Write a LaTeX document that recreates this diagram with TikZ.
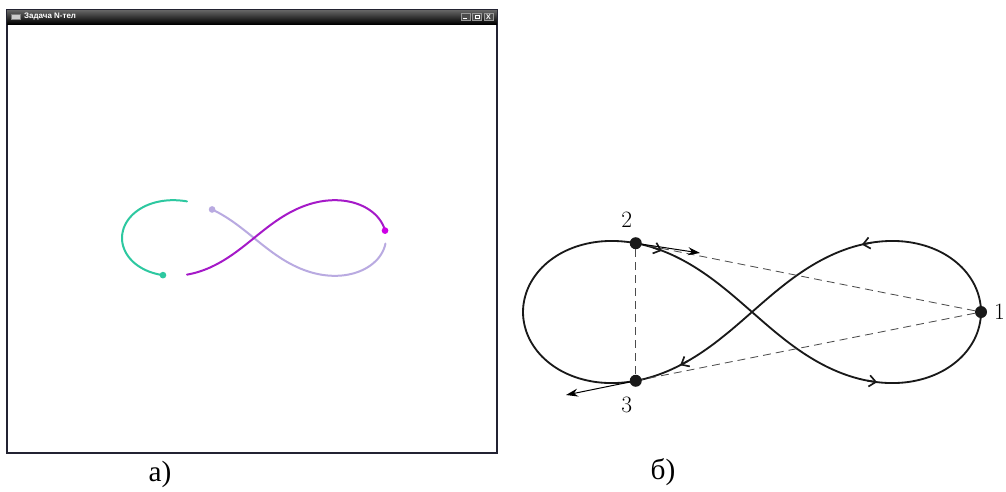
\documentclass[tikz,border=0pt]{standalone}
\usepackage{fontspec}
\newfontfamily\serifcyr{Liberation Serif}
\newfontfamily\winfont{Liberation Sans}
\usetikzlibrary{arrows.meta, positioning}

\definecolor{trailteal}{RGB}{45,200,160}
\definecolor{trailmag}{RGB}{165,25,200}
\definecolor{dotmag}{RGB}{205,0,230}
\definecolor{traillilac}{RGB}{185,170,225}
\definecolor{winedge}{RGB}{35,35,50}

\begin{document}
\begin{tikzpicture}[
    x=0.03cm, y=-0.03cm,
    declare function={lx(\t)=cos(\t)/(1+sin(\t)^2); ly(\t)=sin(\t)*cos(\t)/(1+sin(\t)^2);},
    orbit/.style={line width=0.55mm, black!90},
    trail/.style={line width=0.6mm, line cap=round},
    chev/.style={line width=0.5mm, black!90, -{Straight Barb[length=2mm, width=3.4mm]}},
    body/.style={circle, fill=black!90, inner sep=0pt, minimum size=3.6mm},
    bodydot/.style={circle, inner sep=0pt, minimum size=2mm},
    vel/.style={line width=0.3mm, -{Stealth[length=3.6mm, width=2.4mm]}},
    link/.style={black!70, line width=0.25mm, dash pattern=on 2.4mm off 1.5mm},
    btn/.style={draw=black!40, fill=black!70, minimum width=0.27cm, minimum height=0.21cm,
                inner sep=0pt, text=white, font=\winfont\bfseries\fontsize{6}{6}\selectfont},
    panelcap/.style={font=\serifcyr\fontsize{25}{25}\selectfont, inner sep=0pt},
    num/.style={font=\fontsize{20}{20}\selectfont, inner sep=0pt},
]
    \useasboundingbox (0,0) rectangle (1006,491);
    \fill[white] (0,0) rectangle (1006,491);

    % window of the simulation
    \draw[line width=0.7mm, winedge, fill=white] (7,10) rectangle (497,453);
    \shade[top color=black!60, middle color=black!90, bottom color=black] (7,10) rectangle (497,24);
    \node[draw=black!50, fill=black!20, minimum width=0.27cm, minimum height=0.15cm, inner sep=0pt] (icon) at (15.5,16.5) {};
    \node[anchor=west, text=white, inner sep=0pt, font=\winfont\bfseries\fontsize{6.8}{7}\selectfont]
        (title) at (24,16.5) {Задача N-тел};
    \node[btn] (bmin) at (465.5,17) {};
    \node[btn, right=0.06cm of bmin] (bmax) {};
    \node[btn, right=0.06cm of bmax] (bclose) {X};
    \draw[white, line width=0.35mm] ([xshift=-0.07cm, yshift=-0.05cm]bmin.center) -- ++(0.11cm,0);
    \draw[white, line width=0.25mm] ([xshift=-0.06cm, yshift=-0.05cm]bmax.center) rectangle ++(0.12cm,0.1cm);

    % trails
    \draw[trail, trailteal] plot[domain=149.8:222.4, samples=60, smooth, variable=\t]
        ({254+132*lx(\t)}, {238-107*ly(\t)});
    \draw[trail, traillilac] plot[domain=237.2:357, samples=80, smooth, variable=\t]
        ({254+132*lx(\t)}, {238-107*ly(\t)});
    \draw[trail, trailmag] plot[domain=4:137.6, samples=80, smooth, variable=\t]
        ({254+132*lx(\t)}, {238-107*ly(\t)});
    \node[bodydot, fill=trailteal]  (dA) at ({254+132*lx(149.8)}, {238-107*ly(149.8)}) {};
    \node[bodydot, fill=traillilac] (dB) at ({254+132*lx(237.2)}, {238-107*ly(237.2)}) {};
    \node[bodydot, fill=dotmag]     (dC) at ({254+132*lx(4)}, {238-107*ly(4)}) {};

    % figure-eight orbit
    \draw[orbit] plot[domain=0:360, samples=181, smooth, variable=\t]
        ({752+229*lx(\t)}, {312-201*ly(\t)});
    \foreach \t [evaluate=\t as \ts using \t-3] in {44.4, 122.5, 230.95, 320.3}
        \draw[chev] plot[domain=\ts:\t, samples=2, variable=\s] ({752+229*lx(\s)}, {312-201*ly(\s)});

    \node[body] (b1) at ({752+229*lx(0)}, {312-201*ly(0)}) {};
    \node[body] (b2) at ({752+229*lx(222.4)}, {312-201*ly(222.4)}) {};
    \node[body] (b3) at ({752+229*lx(137.6)}, {312-201*ly(137.6)}) {};
    \node[num, right=0.2cm of b1] (n1) {1};
    \node[num, above=0.28cm of b2, xshift=-0.27cm] (n2) {2};
    \node[num, below=0.3cm of b3, xshift=-0.27cm] (n3) {3};

    \draw[link] (b1) -- (b2);
    \draw[link] (b1) -- (b3);
    \draw[link] (b2) -- (b3);

    \coordinate (v2) at (700,253);
    \coordinate (v3) at (566,395);
    \draw[vel] (b2) -- (v2);
    \draw[vel] (b3) -- (v3);

    \node[panelcap] (capa) at (160,474) {а)};
    \node[panelcap] (capb) at (663,472) {б)};
\end{tikzpicture}
\end{document}
